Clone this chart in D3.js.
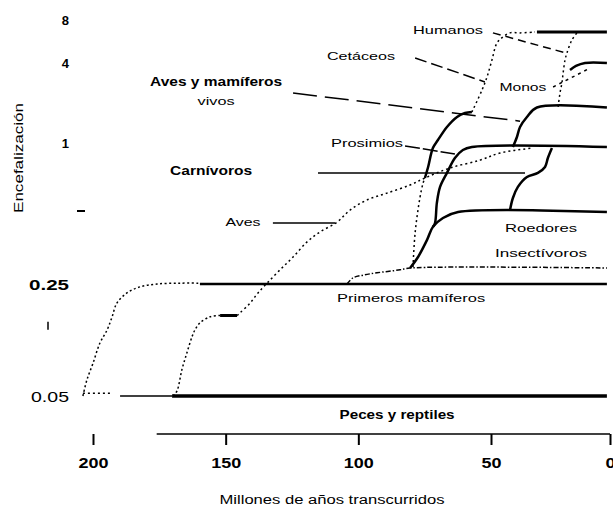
<!DOCTYPE html>
<html>
<head>
<meta charset="utf-8">
<title>Encefalización</title>
<script src="https://d3js.org/d3.v7.min.js"></script>
<style>
  body { margin: 0; background: #fff; }
  svg { display: block; }
  text { font-family: "Liberation Sans", Arial, sans-serif; fill: #000; }
</style>
</head>
<body>
<div id="chart"></div>
<script>
// axis ticks
var xTicks = [200, 150, 100, 50, 0];
var yTicks = [0.05, 0.25, 0.5, 1, 4, 8];
var yTickLabels = ["0.05", "0.25", "", "1", "4", "8"];

// series: [millones de años, encefalización]
var pecesInicio = [[189.8, 0.05], [170.2, 0.05]];
var peces = [[170.2, 0.05], [1.3, 0.05]];
var origenMamiferosBase = [[203.8, 0.052], [192.5, 0.052]];
var origenMamiferos = [[203.8, 0.05], [202.3, 0.063], [200, 0.080], [197.4, 0.107], [194.7, 0.129],
  [192.8, 0.156], [191, 0.19], [187.2, 0.22], [182.3, 0.24], [175.9, 0.25], [167.2, 0.252], [159.7, 0.252]];
var primerosMamiferos = [[159.7, 0.25], [1.3, 0.25]];
var origenAves = [[169.8, 0.05], [168.3, 0.054], [166.5, 0.073], [164.6, 0.093], [162.7, 0.117],
  [161.6, 0.129], [159.7, 0.143], [155.9, 0.156], [152.1, 0.159]];
var avesMeseta = [[152.1, 0.159], [145.7, 0.159]];
var aves = [[145.7, 0.159], [144.6, 0.165], [140.8, 0.19], [137.8, 0.22], [134.4, 0.252], [129.5, 0.286],
  [124.6, 0.323], [119.3, 0.373], [114.4, 0.41], [108, 0.45], [103.1, 0.505], [96.7, 0.56], [89.2, 0.60],
  [80.5, 0.652], [74.9, 0.70], [65.5, 0.775], [54.1, 0.84], [46.2, 0.903], [32.4, 0.95]];
var insectivoros = [[104.3, 0.25], [102, 0.265], [98.2, 0.272], [93, 0.278], [84.3, 0.286], [80.5, 0.291], [1.3, 0.291]];
var roedores = [[80.5, 0.291], [77.5, 0.323], [74.1, 0.38], [71.9, 0.43], [68.1, 0.468], [62.4, 0.495], [1.3, 0.495]];
var prosimios = [[71.9, 0.43], [71.1, 0.446], [70.4, 0.543], [69.2, 0.639], [66.6, 0.737], [63.6, 0.858],
  [60.6, 0.931], [57.2, 0.96], [1.3, 0.96]];
var cetaceosBase = [[79.4, 0.294], [78.6, 0.406], [76.8, 0.571], [75.6, 0.665], [74.9, 0.70]];
var cetaceosMedio = [[74.9, 0.70], [73.7, 0.783], [71.9, 0.95], [70, 1.053], [66.6, 1.32], [62.8, 1.57],
  [59.8, 1.68], [57.2, 1.71]];
var cetaceosAlto = [[57.2, 1.71], [53.4, 2.5], [51.5, 3.14], [49.6, 4.2], [47.5, 5.52], [45, 6.08],
  [42, 6.5], [37.8, 6.5], [31.5, 6.59]];
var carnivoros = [[42, 0.505], [40.8, 0.571], [38.7, 0.639], [34.9, 0.707], [30.3, 0.737], [27.3, 0.783],
  [26.1, 0.858], [24.4, 0.95]];
var monos = [[40.8, 0.96], [39.1, 1.11], [37.8, 1.32], [34.9, 1.57], [30.7, 1.85], [1.3, 1.85]];
var simios = [[16.8, 3.54], [14.3, 3.8], [10.5, 4], [1.3, 4]];
var hominidos = [[21.8, 1.87], [21, 2.38], [20.2, 2.83], [19.7, 3.36], [18.9, 4.2], [18.1, 4.7], [16, 5.8], [13.9, 6.5]];
var humanos = [[30.7, 6.59], [1.3, 6.59]];

// labels and their leader lines, in data units
var labelTexts = ["Humanos", "Cetáceos", "Aves y mamíferos", "vivos", "Monos", "Prosimios", "Carnívoros",
  "Aves", "Roedores", "Insectívoros", "Primeros mamíferos", "Peces y reptiles"];
var labelMyr = [66.2, 99.0, 153.6, 153.6, 36.6, 96.7, 155.5, 143.5, 29, 29, 80.1, 85.4];
var labelEnc = [6.81, 4.48, 2.88, 2.07, 2.64, 1.0, 0.752, 0.45, 0.425, 0.336, 0.204, 0.038];

var leaderAves = [[132.2, 0.446], [108.8, 0.446]];
var leaderCarnivoros = [[115.2, 0.737], [35.7, 0.737]];
var leaderVivos = [[124.6, 2.38], [37.8, 1.46]];
var leaderCetaceos = [[78.6, 4.34], [52.3, 2.88]];
var leaderHumanos = [[49.2, 6.5], [18.5, 4.70]];
var leaderMonos = [[23.9, 2.64], [9.2, 3.6]];
var leaderProsimios = [[82.4, 0.97], [63.6, 0.894]];

var width = 613;
var height = 508;

var svg = d3.select("#chart")
  .append("svg")
    .attr("width", width)
    .attr("height", height);

// the drawing is hand made: both axes are piecewise
var x = d3.scaleLinear().domain([200, 50, 0]).range([93, 491, 610]);
var yLog = d3.scaleLinear().domain(yTicks.map(Math.log2)).range([396, 284, 211, 143, 63, 20]);
function y(v) { return yLog(Math.log2(v)); }

var curved = d3.line()
  .x(function(d) { return x(d[0]); })
  .y(function(d) { return y(d[1]); })
  .curve(d3.curveCatmullRom.alpha(0.5));
var straight = d3.line()
  .x(function(d) { return x(d[0]); })
  .y(function(d) { return y(d[1]); });

function draw(data, w, dash, gen) {
  svg.append("path")
    .attr("d", (gen || curved)(data))
    .attr("fill", "none")
    .attr("stroke", "#000")
    .attr("stroke-width", w)
    .attr("stroke-linejoin", "round")
    .attr("stroke-dasharray", dash || null);
}

// lineages
draw(pecesInicio, 1.5, null, straight);
draw(peces, 3.5, null, straight);
draw(origenMamiferosBase, 1.5, "2,3", straight);
draw(origenMamiferos, 1.5, "2,2.5");
draw(primerosMamiferos, 2.5, null, straight);
draw(origenAves, 1.5, "2,2.5");
draw(avesMeseta, 3, null, straight);
draw(aves, 1.5, "2,3");
draw(insectivoros, 1.5, "5,2,1.5,2");
draw(roedores, 2.5);
draw(prosimios, 2.5);
draw(cetaceosBase, 1.5, "2,3");
draw(cetaceosMedio, 2.5);
draw(cetaceosAlto, 1.5, "2,3");
draw(carnivoros, 2.5);
draw(monos, 2.5);
draw(simios, 2.5);
draw(hominidos, 1.5, "2,3");
draw(humanos, 3, null, straight);

// leader lines
draw(leaderAves, 1.5, null, straight);
draw(leaderCarnivoros, 1.5, null, straight);
draw(leaderVivos, 1.5, "24,8", straight);
draw(leaderCetaceos, 1.5, "12,5", straight);
draw(leaderHumanos, 1.5, "8,5", straight);
draw(leaderMonos, 1.5, "3,4", straight);
draw(leaderProsimios, 1.5, "15,3", straight);

// labels
var labelLen = { "Humanos": 70, "Cetáceos": 68, "Aves y mamíferos": 132, "vivos": 37, "Monos": 47,
  "Prosimios": 72, "Carnívoros": 82, "Aves": 35, "Roedores": 72, "Insectívoros": 92,
  "Primeros mamíferos": 148, "Peces y reptiles": 115 };
var boldLabels = ["Aves y mamíferos", "Carnívoros", "Peces y reptiles"];

svg.append("g")
  .selectAll("text")
  .data(labelTexts)
  .enter()
  .append("text")
    .attr("x", function(d, i) { return x(labelMyr[i]); })
    .attr("y", function(d, i) { return y(labelEnc[i]); })
    .attr("text-anchor", "middle")
    .attr("dominant-baseline", "central")
    .attr("font-size", function(d) { return boldLabels.indexOf(d) >= 0 ? 12 : 11; })
    .attr("font-weight", function(d) { return boldLabels.indexOf(d) >= 0 ? "bold" : "normal"; })
    .attr("textLength", function(d) { return labelLen[d]; })
    .attr("lengthAdjust", "spacingAndGlyphs")
    .text(function(d) { return d; });

// y axis: labels only, plus the odd tick marks of the drawing
var yLabelLen = { "0.05": 38, "0.25": 40 };
svg.append("g")
  .selectAll("text")
  .data(yTicks)
  .enter()
  .append("text")
    .attr("x", 69)
    .attr("y", function(d) { return y(d); })
    .attr("text-anchor", "end")
    .attr("dominant-baseline", "central")
    .attr("font-size", function(d, i) { return yTickLabels[i].length > 1 ? 15 : 13; })
    .attr("font-weight", function(d, i) { return yTickLabels[i] == "0.05" ? "normal" : "bold"; })
    .attr("textLength", function(d, i) { return yLabelLen[yTickLabels[i]] || null; })
    .attr("lengthAdjust", "spacingAndGlyphs")
    .text(function(d, i) { return yTickLabels[i]; });

svg.append("line")
  .attr("x1", 77).attr("x2", 85)
  .attr("y1", y(0.5)).attr("y2", y(0.5))
  .attr("stroke", "#000").attr("stroke-width", 2);
svg.append("line")
  .attr("x1", 48).attr("x2", 48)
  .attr("y1", y(0.137) - 4).attr("y2", y(0.137) + 4)
  .attr("stroke", "#000").attr("stroke-width", 1.5);

svg.append("text")
  .attr("transform", "translate(19," + 158 + ") rotate(-90)")
  .attr("text-anchor", "middle")
  .attr("dominant-baseline", "central")
  .attr("font-size", 12)
  .attr("textLength", 110)
  .attr("lengthAdjust", "spacingAndGlyphs")
  .text("Encefalización");

// x axis
var axisY = 434;
var xAxis = svg.append("g")
  .attr("transform", "translate(0," + axisY + ")")
  .call(d3.axisBottom(x).tickValues(xTicks).tickSize(11).tickFormat(d3.format("d")));
xAxis.select(".domain").remove();
xAxis.selectAll(".tick line").attr("stroke", "#000").attr("stroke-width", 2);
xAxis.selectAll(".tick text")
  .attr("y", 29)
  .attr("dy", null)
  .attr("dominant-baseline", "central")
  .attr("font-family", "Liberation Sans, Arial, sans-serif")
  .attr("font-size", 14)
  .attr("font-weight", "bold")
  .attr("textLength", function(d) { return String(d).length * 10; })
  .attr("lengthAdjust", "spacingAndGlyphs");
xAxis.append("line")
  .attr("x1", x(176)).attr("x2", x(0))
  .attr("y1", 0).attr("y2", 0)
  .attr("stroke", "#000").attr("stroke-width", 1.5);

svg.append("text")
  .attr("x", 332)
  .attr("y", 500)
  .attr("text-anchor", "middle")
  .attr("dominant-baseline", "central")
  .attr("font-size", 12)
  .attr("textLength", 225)
  .attr("lengthAdjust", "spacingAndGlyphs")
  .text("Millones de años transcurridos");
</script>
</body>
</html>
